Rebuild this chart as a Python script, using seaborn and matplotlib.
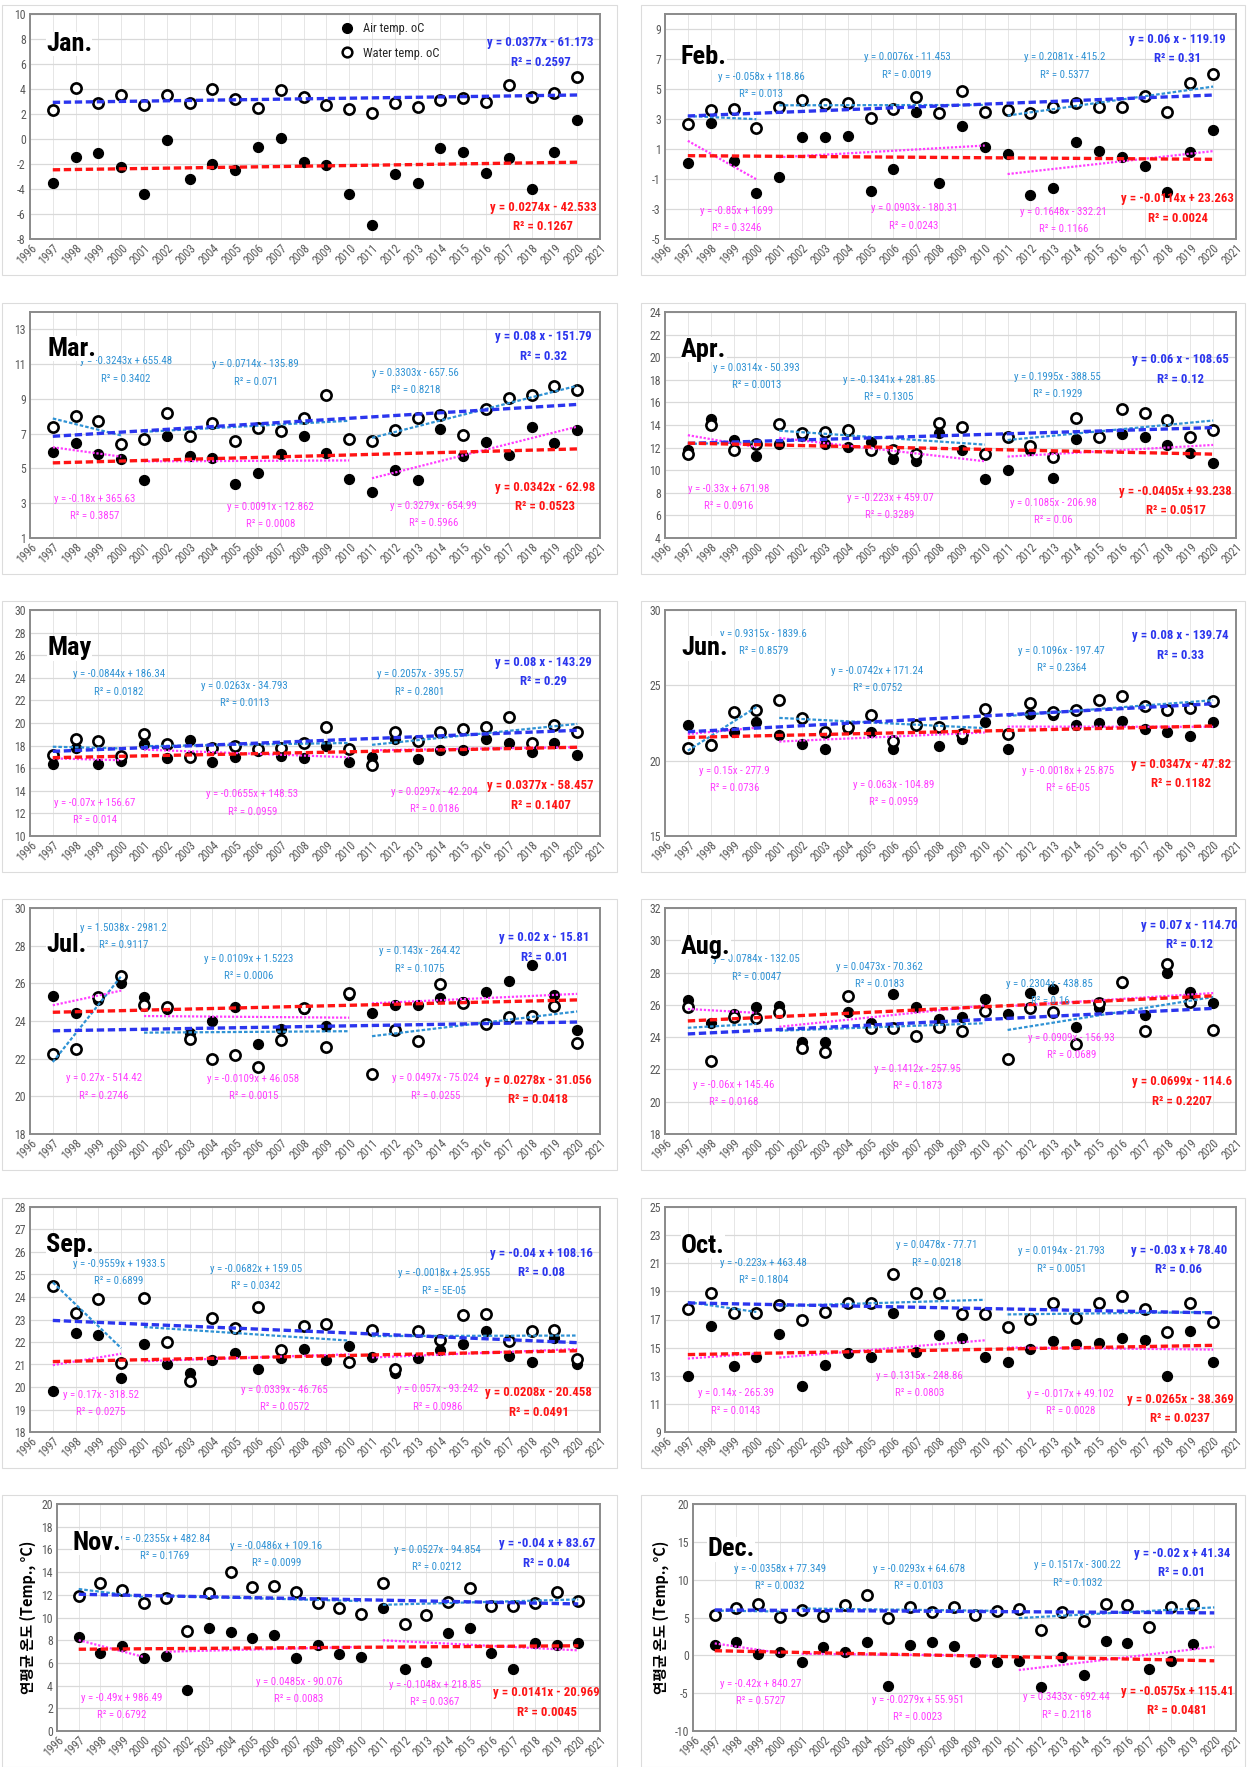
import numpy as np
import pandas as pd
import matplotlib
matplotlib.use("Agg")
import matplotlib.pyplot as plt
from matplotlib import font_manager
from matplotlib.lines import Line2D
from matplotlib.patches import Rectangle
from matplotlib.transforms import blended_transform_factory
import seaborn as sns

# ---------------------------------------------------------------- data
years = list(range(1997, 2021))

air_jan = [-3.5, -1.4, -1.1, -2.2, -4.4, -0.1, -3.2, -2.0, -2.5, -0.6, 0.05, -1.8,
           -2.1, -4.4, -6.9, -2.8, -3.5, -0.7, -1.0, -2.7, -1.5, -4.0, -1.0, 1.5]
water_jan = [2.3, 4.1, 2.9, 3.5, 2.7, 3.5, 2.9, 4.0, 3.2, 2.5, 3.9, 3.4,
             2.7, 2.4, 2.1, 2.9, 2.6, 3.1, 3.3, 3.0, 4.3, 3.4, 3.7, 5.0]

air_feb = [0.05, 2.75, 0.2, -1.95, -0.85, 1.8, 1.8, 1.85, -1.8, -0.3, 3.45, -1.25,
           2.55, 1.15, 0.65, -2.05, -1.6, 1.45, 0.9, 0.5, -0.1, -1.85, 0.8, 2.25]
water_feb = [2.67, 3.6, 3.7, 2.4, 3.8, 4.3, 4.0, 4.05, 3.1, 3.7, 4.5, 3.4,
             4.9, 3.5, 3.6, 3.4, 3.8, 4.1, 3.8, 3.8, 4.55, 3.5, 5.4, 6.0]

air_mar = [5.95, 6.45, 5.85, 5.55, 4.35, 6.85, 5.7, 5.6, 4.1, 4.75, 5.85, 6.85,
           5.9, 4.4, 3.65, 4.9, 4.35, 7.25, 5.7, 6.55, 5.75, 7.4, 6.45, 7.2]
water_mar = [7.4, 8.0, 7.75, 6.4, 6.7, 8.2, 6.85, 7.6, 6.6, 7.35, 7.15, 7.9,
             9.2, 6.7, 6.6, 7.2, 7.9, 8.05, 6.95, 8.4, 9.05, 9.2, 9.75, 9.5]

air_apr = [11.8, 14.55, 12.7, 11.25, 12.35, 13.0, 12.35, 12.05, 12.5, 11.0, 10.8, 13.25,
           11.75, 9.2, 10.0, 11.75, 9.3, 12.8, 12.9, 13.2, 12.95, 12.2, 11.5, 10.6]
water_apr = [11.45, 14.0, 11.8, 12.35, 14.1, 13.25, 13.4, 13.6, 11.8, 11.8, 11.4, 14.2,
             13.8, 11.45, 12.95, 12.1, 11.2, 14.65, 12.95, 15.45, 15.1, 14.4, 12.95, 13.6]

air_may = [16.35, 17.8, 16.35, 16.65, 18.1, 16.9, 18.5, 16.55, 17.0, 17.5, 17.1, 16.9,
           17.95, 16.55, 16.95, 18.55, 16.85, 17.65, 17.65, 18.6, 18.2, 17.4, 18.25, 17.15]
water_may = [17.2, 18.6, 18.4, 17.1, 19.0, 18.1, 16.95, 17.8, 18.0, 17.7, 17.75, 18.25,
             19.65, 17.7, 16.25, 19.2, 18.4, 19.2, 19.5, 19.65, 20.55, 18.2, 19.8, 19.2]

air_jun = [22.35, 21.1, 21.9, 22.55, 21.7, 21.1, 20.75, 22.1, 21.9, 20.8, 22.35, 21.0,
           21.45, 22.55, 20.75, 23.1, 23.0, 22.4, 22.5, 22.6, 22.1, 21.9, 21.65, 22.55]
water_jun = [20.85, 21.05, 23.2, 23.35, 24.0, 22.8, 21.9, 22.25, 23.0, 21.3, 22.35, 22.25,
             21.75, 23.4, 21.8, 23.8, 23.2, 23.35, 24.0, 24.3, 23.65, 23.35, 23.5, 23.95]

air_jul = [25.35, 24.45, 25.1, 26.0, 25.25, 24.65, 23.35, 24.0, 24.75, 22.8, 23.6, 24.65,
           23.75, 25.4, 24.45, 24.85, 24.85, 25.2, 25.0, 25.55, 26.15, 26.95, 25.4, 23.5]
water_jul = [22.25, 22.5, 25.25, 26.4, 24.85, 24.75, 23.05, 22.0, 22.2, 21.55, 23.0, 24.7,
             22.6, 25.5, 21.2, 23.5, 22.95, 25.95, 24.95, 23.85, 24.2, 24.25, 24.8, 22.85]

air_aug = [26.3, 24.9, 25.45, 25.85, 25.95, 23.7, 23.7, 25.55, 24.9, 26.65, 25.85, 25.1,
           25.25, 26.35, 25.45, 26.75, 27.0, 24.65, 25.8, 27.35, 25.35, 28.0, 26.8, 26.1]
water_aug = [25.85, 22.5, 25.25, 25.2, 25.55, 23.3, 23.1, 26.55, 24.55, 24.55, 24.05, 24.65,
             24.35, 25.65, 22.65, 25.8, 25.55, 23.6, 26.1, 27.4, 24.4, 28.5, 26.2, 24.45]

air_sep = [19.8, 22.4, 22.3, 20.4, 21.9, 21.0, 20.6, 21.2, 21.5, 20.8, 21.3, 21.7,
           21.2, 21.8, 21.35, 20.6, 21.3, 21.65, 21.9, 22.5, 21.4, 21.1, 22.2, 21.0]
water_sep = [24.5, 23.3, 23.9, 21.05, 23.95, 22.0, 20.25, 23.05, 22.6, 23.55, 21.65, 22.7,
             22.8, 21.1, 22.55, 20.8, 22.5, 22.1, 23.2, 23.25, 22.05, 22.5, 22.55, 21.25]

air_oct = [13.0, 16.55, 13.7, 14.35, 16.0, 12.3, 13.8, 14.6, 14.3, 17.45, 14.7, 15.9,
           15.65, 14.35, 14.0, 14.9, 15.5, 15.25, 15.35, 15.7, 15.55, 12.95, 16.15, 14.0]
water_oct = [17.75, 18.9, 17.45, 17.45, 18.05, 17.0, 17.5, 18.2, 18.2, 20.25, 18.9, 18.9,
             17.4, 17.4, 16.5, 17.05, 18.15, 17.1, 18.15, 18.65, 17.75, 16.1, 18.15, 16.85]

air_nov = [8.25, 6.9, 7.5, 6.4, 6.6, 3.6, 9.05, 8.75, 8.2, 8.45, 6.45, 7.55,
           6.8, 6.55, 10.8, 5.5, 6.1, 8.6, 9.05, 6.9, 5.5, 7.75, 7.55, 7.75]
water_nov = [11.9, 13.0, 12.4, 11.3, 11.7, 8.8, 12.2, 14.0, 12.65, 12.8, 12.25, 11.25,
             10.8, 10.3, 13.0, 9.4, 10.2, 11.35, 12.6, 11.05, 11.0, 11.25, 12.25, 11.45]

air_dec = [1.4, 1.7, 0.2, 0.5, -0.9, 1.05, 0.45, 1.75, -4.0, 1.3, 1.75, 1.2,
           -0.9, -0.9, -0.7, -4.2, -0.25, -2.55, 1.85, 1.6, -1.75, -0.7, 1.5, np.nan]
water_dec = [5.35, 6.25, 6.75, 5.05, 5.95, 5.15, 6.6, 8.0, 4.9, 6.45, 5.7, 6.35,
             5.35, 5.9, 6.1, 3.4, 5.7, 4.5, 6.8, 6.6, 3.8, 6.45, 6.6, np.nan]

month_names = ["Jan.", "Feb.", "Mar.", "Apr.", "May", "Jun.",
               "Jul.", "Aug.", "Sep.", "Oct.", "Nov.", "Dec."]

# whole-period regression labels
water_fit_eq = ["y = 0.0377x - 61.173", "y = 0.06 x - 119.19", "y = 0.08 x - 151.79",
                "y = 0.06 x - 108.65", "y = 0.08 x - 143.29", "y = 0.08 x - 139.74",
                "y = 0.02 x - 15.81", "y = 0.07 x - 114.70", "y = -0.04 x + 108.16",
                "y = -0.03 x + 78.40", "y = -0.04 x + 83.67", "y = -0.02 x + 41.34"]
water_fit_r2 = ["R² = 0.2597", "R² = 0.31", "R² = 0.32", "R² = 0.12", "R² = 0.29", "R² = 0.33",
                "R² = 0.01", "R² = 0.12", "R² = 0.08", "R² = 0.06", "R² = 0.04", "R² = 0.01"]
air_fit_eq = ["y = 0.0274x - 42.533", "y = -0.0114x + 23.263", "y = 0.0342x - 62.98",
              "y = -0.0405x + 93.238", "y = 0.0377x - 58.457", "y = 0.0347x - 47.82",
              "y = 0.0278x - 31.056", "y = 0.0699x - 114.6", "y = 0.0208x - 20.458",
              "y = 0.0265x - 38.369", "y = 0.0141x - 20.969", "y = -0.0575x + 115.41"]
air_fit_r2 = ["R² = 0.1267", "R² = 0.0024", "R² = 0.0523", "R² = 0.0517", "R² = 0.1407",
              "R² = 0.1182", "R² = 0.0418", "R² = 0.2207", "R² = 0.0491", "R² = 0.0237",
              "R² = 0.0045", "R² = 0.0481"]

# sub-period regression labels (1997-2000, 2001-2010, 2011-2020)
water_seg_eq = [None,
                ["y = -0.058x + 118.86", "y = 0.0076x - 11.453", "y = 0.2081x - 415.2"],
                ["y = -0.3243x + 655.48", "y = 0.0714x - 135.89", "y = 0.3303x - 657.56"],
                ["y = 0.0314x - 50.393", "y = -0.1341x + 281.85", "y = 0.1995x - 388.55"],
                ["y = -0.0844x + 186.34", "y = 0.0263x - 34.793", "y = 0.2057x - 395.57"],
                ["y = 0.9315x - 1839.6", "y = -0.0742x + 171.24", "y = 0.1096x - 197.47"],
                ["y = 1.5038x - 2981.2", "y = 0.0109x + 1.5223", "y = 0.143x - 264.42"],
                ["y = 0.0784x - 132.05", "y = 0.0473x - 70.362", "y = 0.2304x - 438.85"],
                ["y = -0.9559x + 1933.5", "y = -0.0682x + 159.05", "y = -0.0018x + 25.955"],
                ["y = -0.223x + 463.48", "y = 0.0478x - 77.71", "y = 0.0194x - 21.793"],
                ["y = -0.2355x + 482.84", "y = -0.0486x + 109.16", "y = 0.0527x - 94.854"],
                ["y = -0.0358x + 77.349", "y = -0.0293x + 64.678", "y = 0.1517x - 300.22"]]
water_seg_r2 = [None,
                ["R² = 0.013", "R² = 0.0019", "R² = 0.5377"],
                ["R² = 0.3402", "R² = 0.071", "R² = 0.8218"],
                ["R² = 0.0013", "R² = 0.1305", "R² = 0.1929"],
                ["R² = 0.0182", "R² = 0.0113", "R² = 0.2801"],
                ["R² = 0.8579", "R² = 0.0752", "R² = 0.2364"],
                ["R² = 0.9117", "R² = 0.0006", "R² = 0.1075"],
                ["R² = 0.0047", "R² = 0.0183", "R² = 0.16"],
                ["R² = 0.6899", "R² = 0.0342", "R² = 5E-05"],
                ["R² = 0.1804", "R² = 0.0218", "R² = 0.0051"],
                ["R² = 0.1769", "R² = 0.0099", "R² = 0.0212"],
                ["R² = 0.0032", "R² = 0.0103", "R² = 0.1032"]]
air_seg_eq = [None,
              ["y = -0.85x + 1699", "y = 0.0903x - 180.31", "y = 0.1648x - 332.21"],
              ["y = -0.18x + 365.63", "y = 0.0091x - 12.862", "y = 0.3279x - 654.99"],
              ["y = -0.33x + 671.98", "y = -0.223x + 459.07", "y = 0.1085x - 206.98"],
              ["y = -0.07x + 156.67", "y = -0.0655x + 148.53", "y = 0.0297x - 42.204"],
              ["y = 0.15x - 277.9", "y = 0.063x - 104.89", "y = -0.0018x + 25.875"],
              ["y = 0.27x - 514.42", "y = -0.0109x + 46.058", "y = 0.0497x - 75.024"],
              ["y = -0.06x + 145.46", "y = 0.1412x - 257.95", "y = 0.0909x - 156.93"],
              ["y = 0.17x - 318.52", "y = 0.0339x - 46.765", "y = 0.057x - 93.242"],
              ["y = 0.14x - 265.39", "y = 0.1315x - 248.86", "y = -0.017x + 49.102"],
              ["y = -0.49x + 986.49", "y = 0.0485x - 90.076", "y = -0.1048x + 218.85"],
              ["y = -0.42x + 840.27", "y = -0.0279x + 55.951", "y = 0.3433x - 692.44"]]
air_seg_r2 = [None,
              ["R² = 0.3246", "R² = 0.0243", "R² = 0.1166"],
              ["R² = 0.3857", "R² = 0.0008", "R² = 0.5966"],
              ["R² = 0.0916", "R² = 0.3289", "R² = 0.06"],
              ["R² = 0.014", "R² = 0.0959", "R² = 0.0186"],
              ["R² = 0.0736", "R² = 0.0959", "R² = 6E-05"],
              ["R² = 0.2746", "R² = 0.0015", "R² = 0.0255"],
              ["R² = 0.0168", "R² = 0.1873", "R² = 0.0689"],
              ["R² = 0.0275", "R² = 0.0572", "R² = 0.0986"],
              ["R² = 0.0143", "R² = 0.0803", "R² = 0.0028"],
              ["R² = 0.6792", "R² = 0.0083", "R² = 0.0367"],
              ["R² = 0.5727", "R² = 0.0023", "R² = 0.2118"]]

air_series = [air_jan, air_feb, air_mar, air_apr, air_may, air_jun,
              air_jul, air_aug, air_sep, air_oct, air_nov, air_dec]
water_series = [water_jan, water_feb, water_mar, water_apr, water_may, water_jun,
                water_jul, water_aug, water_sep, water_oct, water_nov, water_dec]

y_limits = [(-8, 10), (-5, 10), (1, 14), (4, 24), (10, 30), (15, 30),
            (18, 30), (18, 32), (18, 28), (9, 25), (0, 20), (-10, 20)]
y_steps = [2, 2, 2, 2, 2, 5, 2, 2, 1, 2, 2, 5]

periods = [(1997, 2000), (2001, 2010), (2011, 2020)]
ylabel_text = "연평균 온도 (Temp., °C)"

# ------------------------------------------------------------ layout
# label anchors: x in years, y as fraction of the axes height
title_pos = [(1996.7, 0.867), (1996.7, 0.807), (1996.75, 0.838), (1996.7, 0.833),
             (1996.75, 0.830), (1996.7, 0.830), (1996.7, 0.835), (1996.7, 0.827),
             (1996.7, 0.829), (1996.7, 0.827), (1996.7, 0.830), (1996.65, 0.800)]
water_fit_pos = [(2018.4, 0.873), (2018.45, 0.887), (2018.5, 0.890), (2018.55, 0.789),
                 (2018.5, 0.768), (2018.55, 0.886), (2018.55, 0.869), (2018.95, 0.923),
                 (2018.45, 0.795), (2018.5, 0.808), (2018.55, 0.824), (2018.5, 0.783)]
air_fit_pos = [(2018.5, 0.141), (2018.45, 0.178), (2018.6, 0.224), (2018.35, 0.207),
               (2018.4, 0.222), (2018.6, 0.318), (2018.3, 0.237), (2018.65, 0.232),
               (2018.3, 0.174), (2018.55, 0.146), (2018.55, 0.169), (2018.3, 0.176)]
water_seg_pos = [None,
                 [(2000.2, 0.721), (2006.6, 0.807), (2013.5, 0.807)],
                 [(2000.2, 0.782), (2005.9, 0.768), (2012.9, 0.731)],
                 [(2000.0, 0.752), (2005.8, 0.701), (2013.2, 0.712)],
                 [(1999.9, 0.715), (2005.4, 0.665), (2013.1, 0.715)],
                 [(2000.3, 0.894), (2005.3, 0.731), (2013.35, 0.820)],
                 [(2000.1, 0.913), (2005.6, 0.776), (2013.1, 0.809)],
                 [(2000.0, 0.773), (2005.4, 0.739), (2012.85, 0.665)],
                 [(1999.9, 0.747), (2005.9, 0.725), (2014.15, 0.706)],
                 [(2000.3, 0.753), (2007.9, 0.830), (2013.35, 0.803)],
                 [(2000.95, 0.846), (2006.1, 0.816), (2013.5, 0.797)],
                 [(2000.0, 0.714), (2006.4, 0.714), (2013.7, 0.730)]]
air_seg_pos = [None,
               [(1999.15, 0.124), (2006.9, 0.136), (2013.45, 0.121)],
               [(1998.85, 0.172), (2006.55, 0.137), (2013.7, 0.143)],
               [(1998.8, 0.217), (2005.85, 0.177), (2013.0, 0.155)],
               [(1998.85, 0.148), (2005.75, 0.185), (2013.75, 0.195)],
               [(1999.05, 0.288), (2006.0, 0.227), (2013.65, 0.287)],
               [(1999.25, 0.247), (2005.8, 0.243), (2013.8, 0.247)],
               [(1999.0, 0.217), (2007.05, 0.288), (2013.8, 0.425)],
               [(1999.1, 0.165), (2007.15, 0.188), (2013.9, 0.190)],
               [(1999.1, 0.172), (2007.15, 0.249), (2013.75, 0.169)],
               [(1999.0, 0.147), (2007.15, 0.216), (2013.4, 0.204)],
               [(1999.1, 0.208), (2006.35, 0.136), (2013.2, 0.149)]]

# axes boxes in pixels: (top, bottom) for each row
row_spans = [(14, 239), (312, 538), (610, 836), (908, 1134), (1207, 1432), (1504, 1731)]

# ------------------------------------------------------------- style
sns.set_theme(style="white")
available = {f.name for f in font_manager.fontManager.ttflist}
narrow = "DejaVu Sans"
for cand in ["Liberation Sans Narrow", "Roboto Condensed", "Open Sans Condensed",
             "Noto Sans Display", "Liberation Sans"]:
    if cand in available:
        narrow = cand
        break
plt.rcParams["font.family"] = [narrow, "DejaVu Sans"]
plt.rcParams["axes.unicode_minus"] = False

C_WATER = "#2b35ee"
C_AIR = "#ff1414"
C_WSEG = "#2f92d4"
C_ASEG = "#ff3cff"
C_TICK = "#595959"

W, H = 1247, 1767
fig = plt.figure(figsize=(W / 100, H / 100), dpi=100)
fig.patch.set_facecolor("white")


def add_axes_px(left, top, right, bottom):
    return fig.add_axes([left / W, 1 - bottom / H, (right - left) / W, (bottom - top) / H])


def draw_fit(ax, x, y, x0, x1, **kw):
    mask = (x >= x0) & (x <= x1) & ~np.isnan(y)
    k, b = np.polyfit(x[mask], y[mask], 1)
    xs = np.array([x0, x1], dtype=float)
    ax.plot(xs, k * xs + b, **kw)


def two_line_label(ax, pos, lines, color, size, weight, gap):
    trans = blended_transform_factory(ax.transData, ax.transAxes)
    x, y = pos
    ax.annotate(lines[0], xy=(x, y), xycoords=trans, ha="center", va="center",
                color=color, fontsize=size, fontweight=weight, zorder=6)
    ax.annotate(lines[1], xy=(x, y), xycoords=trans, xytext=(0, -gap),
                textcoords="offset points", ha="center", va="center",
                color=color, fontsize=size, fontweight=weight, zorder=6)


x_years = np.array(years, dtype=float)

for i in range(12):
    row, col = divmod(i, 2)
    top, bottom = row_spans[row]
    if col == 0:
        left = 57 if i == 10 else 30
        right = 600
        fx0, fx1 = 2, 617
    else:
        left = 693 if i == 11 else 665
        right = 1236
        fx0, fx1 = 641, 1245

    # chart-area frame
    fig.patches.append(Rectangle((fx0 / W, 1 - (bottom + 36) / H), (fx1 - fx0) / W,
                                 (bottom + 36 - (top - 9)) / H, transform=fig.transFigure,
                                 fill=False, ec="#dcdcdc", lw=0.8, zorder=0))

    ax = add_axes_px(left, top, right, bottom)
    df = pd.DataFrame({"year": x_years,
                       "air": np.array(air_series[i], dtype=float),
                       "water": np.array(water_series[i], dtype=float)})

    lo, hi = y_limits[i]
    ax.set_xlim(1996, 2021)
    ax.set_ylim(lo, hi)
    ax.set_yticks(np.arange(lo, hi + 0.001, y_steps[i]))
    ax.set_xticks(range(1996, 2022))
    ax.set_xticklabels([str(v) for v in range(1996, 2022)], rotation=45, ha="right",
                       rotation_mode="anchor")
    ax.grid(True, axis="y", color="#d9d9d9", lw=0.9)
    ax.grid(True, axis="x", color="#e6e6e6", lw=0.7)
    ax.set_axisbelow(True)
    for sp in ax.spines.values():
        sp.set_color("#8a8a8a")
        sp.set_linewidth(1.4)
    ax.tick_params(axis="both", length=0, labelsize=8.5, colors=C_TICK)
    ax.tick_params(axis="y", pad=3)
    ax.tick_params(axis="x", pad=2)

    sns.scatterplot(data=df, x="year", y="air", ax=ax, color="black", s=50,
                    edgecolor="black", linewidth=1.0, zorder=3, legend=False)
    sns.scatterplot(data=df, x="year", y="water", ax=ax, marker="o", s=54,
                    facecolor="white", edgecolor="black", linewidth=1.9,
                    zorder=4, legend=False)
    ax.set_xlabel("")
    ax.set_ylabel("")

    # sub-period trends
    if water_seg_eq[i] is not None:
        for (p0, p1) in periods:
            draw_fit(ax, df["year"].values, df["water"].values, p0, p1,
                     color=C_WSEG, lw=1.6, dashes=(1.6, 0.9), zorder=5)
            draw_fit(ax, df["year"].values, df["air"].values, p0, p1,
                     color=C_ASEG, lw=1.6, dashes=(1.0, 0.8), zorder=5)

    # whole-period trends
    draw_fit(ax, df["year"].values, df["water"].values, 1997, 2020,
             color=C_WATER, lw=2.4, dashes=(2.2, 1.1), zorder=5)
    draw_fit(ax, df["year"].values, df["air"].values, 1997, 2020,
             color=C_AIR, lw=2.4, dashes=(2.2, 1.1), zorder=5)

    # labels
    trans = blended_transform_factory(ax.transData, ax.transAxes)
    tx, ty = title_pos[i]
    ax.text(tx, ty, month_names[i], transform=trans, ha="left", va="center",
            fontsize=19, fontweight="bold", color="black", zorder=7,
            bbox=dict(fc="white", ec="none", pad=0.2))

    two_line_label(ax, water_fit_pos[i], (water_fit_eq[i], water_fit_r2[i]),
                   C_WATER, 9.2, "bold", 14)
    two_line_label(ax, air_fit_pos[i], (air_fit_eq[i], air_fit_r2[i]),
                   C_AIR, 9.2, "bold", 14)
    if water_seg_eq[i] is not None:
        for k in range(3):
            two_line_label(ax, water_seg_pos[i][k],
                           (water_seg_eq[i][k], water_seg_r2[i][k]),
                           C_WSEG, 7.8, "normal", 12.5)
            two_line_label(ax, air_seg_pos[i][k],
                           (air_seg_eq[i][k], air_seg_r2[i][k]),
                           C_ASEG, 7.8, "normal", 12.5)

    if i == 0:
        handles = [Line2D([], [], ls="none", marker="o", markersize=7,
                          mfc="black", mec="black"),
                   Line2D([], [], ls="none", marker="o", markersize=7,
                          mfc="white", mec="black", mew=1.8)]
        ax.legend(handles, ["Air temp. oC", "Water temp. oC"], loc="upper left",
                  bbox_to_anchor=(0.525, 0.985), frameon=False, fontsize=9,
                  handletextpad=0.3, labelspacing=0.9, borderaxespad=0)

    if i >= 10:
        ax.set_ylabel(ylabel_text, family=["Noto Sans CJK KR", "DejaVu Sans"],
                      fontsize=10.5, fontweight="bold", color="black", labelpad=4)

fig.savefig("out.png", dpi=100, facecolor="white")
